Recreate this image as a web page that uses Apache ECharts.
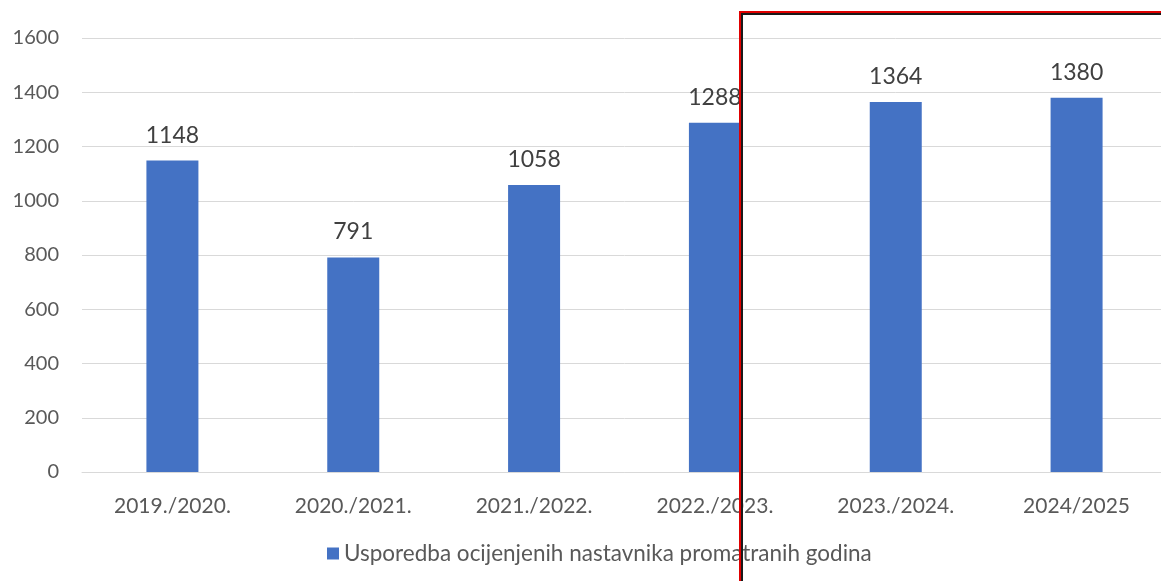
<!DOCTYPE html>
<html><head><meta charset="utf-8">
<script src="https://cdn.jsdelivr.net/npm/echarts@6/dist/echarts.min.js"></script>
<style>html,body{margin:0;padding:0;background:#fff;overflow:hidden}#c{width:1167px;height:581px}</style>
</head><body><div id="c"></div>
<script>
const categories = ['2019./2020.', '2020./2021.', '2021./2022.', '2022./2023.', '2023./2024.', '2024/2025'];
const seriesName = 'Usporedba ocijenjenih nastavnika promatranih godina';
const values = [1148, 791, 1058, 1288, 1364, 1380];
const yTicks = [0, 200, 400, 600, 800, 1000, 1200, 1400, 1600];

const chart = echarts.init(document.getElementById('c'));
const font = 'Lato, "Open Sans", sans-serif';
chart.setOption({
  animation: false,
  textStyle: { fontFamily: font },
  grid: { left: 82, right: 0, top: 38, bottom: 109, containLabel: false },
  legend: {
    bottom: 11, left: 322, itemWidth: 12, itemHeight: 12, itemGap: 6,
    icon: 'rect',
    textStyle: { fontSize: 22.5, color: '#595959', fontFamily: font },
    data: [seriesName]
  },
  xAxis: {
    type: 'category', data: categories,
    axisLine: { lineStyle: { color: '#d9d9d9', width: 1 } },
    axisTick: { show: false },
    axisLabel: { fontSize: 21, color: '#595959', margin: 24, fontFamily: font }
  },
  yAxis: {
    type: 'value', min: yTicks[0], max: yTicks[yTicks.length - 1], interval: 200,
    axisLine: { show: false }, axisTick: { show: false },
    splitLine: { lineStyle: { color: '#d9d9d9', width: 1 } },
    axisLabel: { fontSize: 20, color: '#595959', margin: 23, fontFamily: font, formatter: v => String(v) }
  },
  series: [{
    name: seriesName, type: 'bar', data: values, barWidth: 52,
    itemStyle: { color: '#4472c4' },
    label: { show: true, position: 'top', distance: 14, fontSize: 23, color: '#404040', fontFamily: font }
  }],
  graphic: [
    { type: 'rect', shape: { x: 740, y: 12, width: 440, height: 600 }, style: { fill: 'none', stroke: '#e00000', lineWidth: 2 }, z: 100 },
    { type: 'rect', shape: { x: 742, y: 14, width: 440, height: 600 }, style: { fill: 'none', stroke: '#1a1a1a', lineWidth: 2 }, z: 101 }
  ]
});
</script></body></html>
